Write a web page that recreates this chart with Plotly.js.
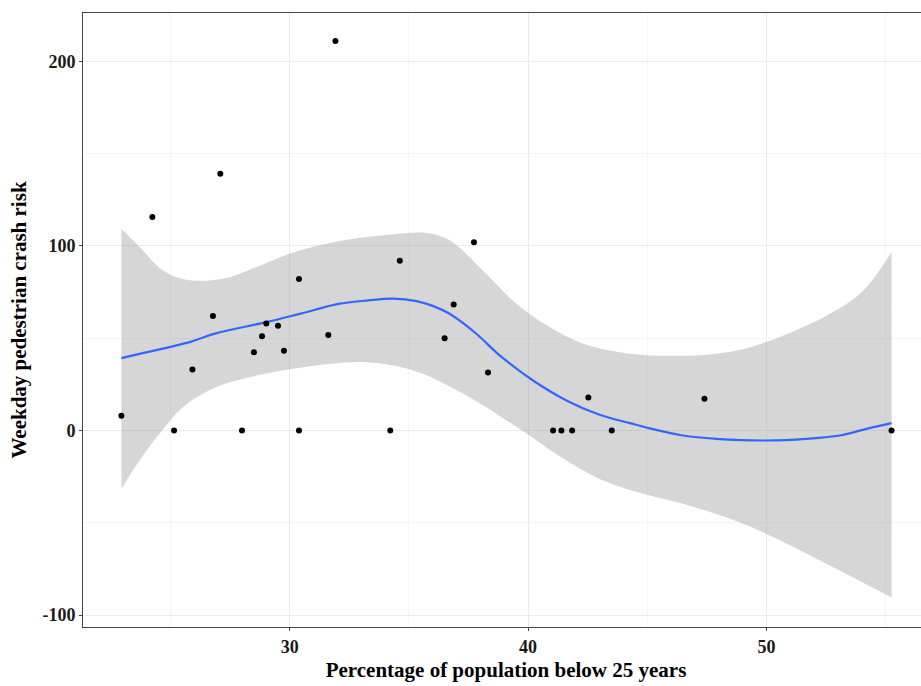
<!DOCTYPE html>
<html>
<head>
<meta charset="utf-8">
<script src="https://cdn.plot.ly/plotly-3.0.1.min.js"></script>
<style>
  html, body { margin: 0; padding: 0; overflow: hidden; background: #fff; }
  #chart { width: 935px; height: 686px; }
</style>
</head>
<body>
<div id="chart"></div>
<script>
// Observed points
const pctYoung = [22.94, 24.24, 25.15, 25.92, 26.78, 27.09, 28.0, 28.5, 28.84, 29.02, 29.51, 29.76, 30.39, 30.39, 31.62, 31.92, 34.22, 34.62, 36.5, 36.88, 37.73, 38.32, 41.05, 41.4, 41.85, 42.53, 43.51, 47.4, 55.25];
const crashRisk = [8, 115.6, 0, 33, 62, 139, 0, 42.4, 51, 58, 56.7, 43.2, 0, 82, 51.7, 211, 0, 92, 50, 68.3, 102, 31.4, 0, 0, 0, 17.9, 0, 17.2, 0];

// Smoothed fit (loess)
const fitX = [22.94, 23.7, 25.8, 26.9, 29.02, 30.42, 32.1, 33.3, 34.34, 35.32, 36.0, 36.71, 37.83, 38.81, 40.21, 41.61, 43.0, 44.27, 45.0, 46.5, 47.9, 50.0, 51.68, 53.08, 54.2, 55.25];
const fitY = [39.2, 41.5, 47.9, 52.6, 58.7, 63.2, 68.7, 70.5, 71.4, 70.1, 67.5, 63.2, 52.4, 40.7, 27.1, 16.3, 8.5, 4.0, 1.5, -2.7, -4.5, -5.4, -4.5, -2.7, 0.9, 4.0];

// Confidence band
const upperX = [22.94, 23.7, 24.68, 25.66, 27.2, 28.6, 30.0, 31.82, 33.92, 35.74, 36.71, 38.1, 39.51, 40.91, 42.31, 44.27, 46.0, 47.5, 49.0, 50.0, 51.0, 52.5, 54.0, 55.25];
const upperY = [109.3, 99.4, 86.7, 81.7, 82.2, 88.5, 95.8, 102, 105.7, 107, 103, 86.7, 68.7, 56, 47, 41.6, 40.5, 41, 44, 48, 53, 62, 75, 96.6];
const lowerX = [22.94, 23.7, 24.54, 25.52, 26.92, 28.32, 30.42, 33.22, 35.32, 37.41, 39.51, 41.61, 43.0, 44.5, 46.5, 48.3, 50.0, 52.8, 55.25];
const lowerY = [-31.6, -16.3, -1.8, 12.6, 23.5, 28.9, 34, 37, 32, 19, 2, -16.3, -26.2, -33, -39.7, -47, -56, -74, -90.4];

const xTicks = [30, 40, 50];
const yTicks = [-100, 0, 100, 200];

const serif = 'Liberation Serif, Times New Roman, serif';

const traces = [
  { x: lowerX, y: lowerY, type: 'scatter', mode: 'lines',
    line: { width: 0, shape: 'spline', smoothing: 1 }, hoverinfo: 'skip', showlegend: false },
  { x: upperX, y: upperY, type: 'scatter', mode: 'lines', fill: 'tonexty',
    fillcolor: 'rgba(153,153,153,0.4)',
    line: { width: 0, shape: 'spline', smoothing: 1 }, hoverinfo: 'skip', showlegend: false },
  { x: fitX, y: fitY, type: 'scatter', mode: 'lines',
    line: { color: '#3366FF', width: 2.2, shape: 'spline', smoothing: 1 }, showlegend: false },
  { x: pctYoung, y: crashRisk, type: 'scatter', mode: 'markers',
    marker: { color: '#000000', size: 6 }, showlegend: false }
];

const axisCommon = {
  showline: true, mirror: true, linecolor: '#444', linewidth: 1,
  ticks: 'outside', ticklen: 3, tickcolor: '#444', tickwidth: 1,
  showgrid: true, gridcolor: '#ebebeb', gridwidth: 1,
  zeroline: false,
  tickfont: { family: serif, size: 18, color: '#1a1a1a', weight: 'bold' }
};

const layout = {
  width: 935, height: 686,
  margin: { l: 83, r: 6, t: 13, b: 59 },
  paper_bgcolor: '#ffffff', plot_bgcolor: '#ffffff',
  xaxis: Object.assign({}, axisCommon, {
    range: [21.33, 56.82], tickvals: xTicks, ticktext: xTicks.map(String),
    minor: { tickmode: 'array', tickvals: [25, 35, 45, 55], showgrid: true, gridcolor: '#f5f5f5', gridwidth: 1, ticks: '' },
    title: { text: 'Percentage of population below 25 years', standoff: 6,
             font: { family: serif, size: 21, color: '#000', weight: 'bold' } }
  }),
  yaxis: Object.assign({}, axisCommon, {
    range: [-106.4, 226.1], tickvals: yTicks, ticktext: yTicks.map(String),
    minor: { tickmode: 'array', tickvals: [-50, 50, 150], showgrid: true, gridcolor: '#f5f5f5', gridwidth: 1, ticks: '' },
    title: { text: 'Weekday pedestrian crash risk', standoff: 10,
             font: { family: serif, size: 21, color: '#000', weight: 'bold' } }
  })
};

Plotly.newPlot('chart', traces, layout, { displayModeBar: false, staticPlot: true });
</script>
</body>
</html>
